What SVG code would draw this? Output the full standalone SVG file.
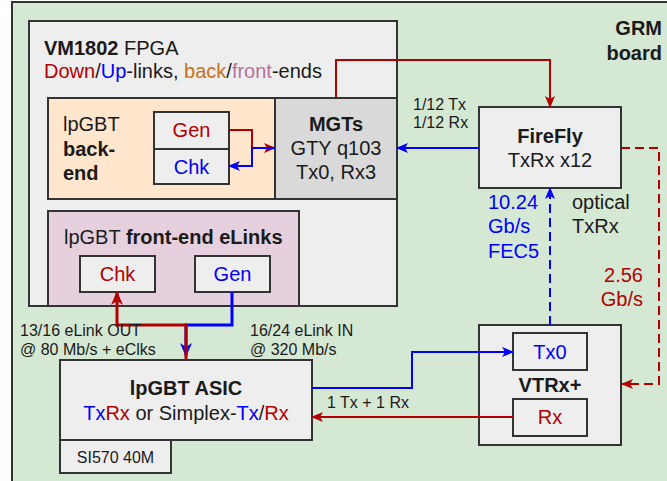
<svg xmlns="http://www.w3.org/2000/svg" width="667" height="481" viewBox="0 0 667 481">
<style>
text{font-family:"Liberation Sans",Arial,sans-serif;fill:#1a1a1a}
.m{font-size:20px}
.s{font-size:16px}
.b{font-weight:bold}
.c{text-anchor:middle}
.e{text-anchor:end}
.box{stroke:#333;stroke-width:2}
.red{fill:#b20000}
.blue{fill:#0000ff}
.org{fill:#c8711a}
.pur{fill:#b5739d}
.cr{fill:none;stroke:#b20000;stroke-width:2}
.cb{fill:none;stroke:#0000ff;stroke-width:2}
</style>
<defs>
<marker id="ar" viewBox="0 0 12 10" refX="11" refY="5" markerWidth="12" markerHeight="10" markerUnits="userSpaceOnUse" orient="auto"><path d="M0,0 L12,5 L0,10 L3,5 Z" fill="#b20000"/></marker>
<marker id="ab" viewBox="0 0 12 10" refX="11" refY="5" markerWidth="12" markerHeight="10" markerUnits="userSpaceOnUse" orient="auto"><path d="M0,0 L12,5 L0,10 L3,5 Z" fill="#0000ff"/></marker>
<marker id="arT" viewBox="0 0 14 12" refX="13" refY="6" markerWidth="14" markerHeight="12" markerUnits="userSpaceOnUse" orient="auto"><path d="M0,0 L14,6 L0,12 L4,6 Z" fill="#b20000"/></marker>
<marker id="abT" viewBox="0 0 14 12" refX="13" refY="6" markerWidth="14" markerHeight="12" markerUnits="userSpaceOnUse" orient="auto"><path d="M0,0 L14,6 L0,12 L4,6 Z" fill="#0000ff"/></marker>
</defs>

<g id="board">
<rect x="12" y="2" width="700" height="520" fill="#d5e8d4" class="box"/>
<text x="662" y="35" class="m b e">GRM</text>
<text x="662" y="60" class="m b e">board</text>
</g>

<g id="fpga">
<rect x="29" y="21" width="368" height="285" fill="#eeeeee" class="box"/>
<text x="44" y="55" class="m"><tspan class="b">VM1802</tspan> FPGA</text>
<text x="44" y="78" class="m"><tspan class="red">Down</tspan>/<tspan class="blue">Up</tspan>-links, <tspan class="org">back</tspan>/<tspan class="pur">front</tspan>-ends</text>
</g>

<g id="backend">
<rect x="48" y="98" width="227" height="101" fill="#ffe6cc" class="box"/>
<text x="63" y="131" class="m">lpGBT</text>
<text x="63" y="156" class="m b">back-</text>
<text x="63" y="180" class="m b">end</text>
</g>
<g id="be-gen">
<rect x="154" y="112" width="75" height="37" fill="#eeeeee" class="box"/>
<text x="191.5" y="137" class="m c red">Gen</text>
</g>
<g id="be-chk">
<rect x="154" y="149" width="75" height="35" fill="#eeeeee" class="box"/>
<text x="191.5" y="174" class="m c blue">Chk</text>
</g>

<g id="mgts">
<rect x="275" y="98" width="122" height="101" fill="#d9d9d9" class="box"/>
<text x="336" y="131" class="m b c">MGTs</text>
<text x="336" y="155" class="m c">GTY q103</text>
<text x="336" y="179" class="m c">Tx0, Rx3</text>
</g>

<g id="frontend">
<rect x="48" y="211" width="251" height="95" fill="#e6d0de" class="box"/>
<text x="64" y="244" class="m">lpGBT <tspan class="b">front-end eLinks</tspan></text>
</g>
<g id="fe-chk">
<rect x="80" y="256" width="75" height="36" fill="#eeeeee" class="box"/>
<text x="117.5" y="281" class="m c red">Chk</text>
</g>
<g id="fe-gen">
<rect x="195" y="256" width="75" height="36" fill="#eeeeee" class="box"/>
<text x="232.5" y="281" class="m c blue">Gen</text>
</g>

<g id="firefly">
<rect x="479" y="107" width="142" height="81" fill="#eeeeee" class="box"/>
<text x="550" y="143" class="m b c">FireFly</text>
<text x="550" y="167" class="m c">TxRx x12</text>
</g>

<g id="asic">
<rect x="60" y="360" width="252" height="80" fill="#eeeeee" class="box"/>
<text x="186" y="395" class="m b c">lpGBT ASIC</text>
<text x="186" y="420" class="m c"><tspan class="blue">Tx</tspan><tspan class="red">Rx</tspan> or Simplex-<tspan class="blue">Tx</tspan>/<tspan class="red">Rx</tspan></text>
</g>
<g id="si570">
<rect x="60" y="440" width="111" height="33" fill="#eeeeee" class="box"/>
<text x="115.5" y="463" class="s c">SI570 40M</text>
</g>

<g id="vtrx">
<rect x="479" y="325" width="142" height="120" fill="#eeeeee" class="box"/>
<text x="550" y="392" class="m b c">VTRx+</text>
</g>
<g id="vtrx-tx0">
<rect x="513" y="333" width="74" height="37" fill="#eeeeee" class="box"/>
<text x="550" y="359" class="m c blue">Tx0</text>
</g>
<g id="vtrx-rx">
<rect x="513" y="399" width="74" height="37" fill="#eeeeee" class="box"/>
<text x="550" y="424" class="m c red">Rx</text>
</g>

<g id="connectors">
<path d="M229,130 H252 V148 H275" class="cr" marker-end="url(#ar)"/>
<path d="M275,148 H252 V166 H229" class="cb" marker-end="url(#ab)"/>
<path d="M336,98 V60 H550 V107" class="cr" marker-end="url(#ar)"/>
<path d="M479,148 H397" class="cb" marker-end="url(#ab)"/>
<path d="M621,148 H659 V384 H622" class="cr" stroke-dasharray="9 5" marker-end="url(#ar)"/>
<path d="M550,325 V188" class="cb" stroke-dasharray="9 5" marker-end="url(#ab)"/>
<path d="M232,292 V325 H186 V356" fill="none" stroke="#0000ff" stroke-width="3" marker-end="url(#abT)"/>
<path d="M186,360 V325 H117 V292" fill="none" stroke="#b20000" stroke-width="3" marker-end="url(#arT)"/>
<path d="M312,388 H412 V352 H513" class="cb" marker-end="url(#ab)"/>
<path d="M513,417 H312" class="cr" marker-end="url(#ar)"/>
</g>

<g id="labels">
<text x="413" y="110" class="s">1/12 Tx</text>
<text x="413" y="128" class="s">1/12 Rx</text>
<text x="488" y="209" class="m blue">10.24</text>
<text x="488" y="233" class="m blue">Gb/s</text>
<text x="488" y="258" class="m blue">FEC5</text>
<text x="572" y="209" class="m">optical</text>
<text x="572" y="233" class="m">TxRx</text>
<text x="643" y="282" class="m e red">2.56</text>
<text x="643" y="306" class="m e red">Gb/s</text>
<text x="20" y="336" class="s">13/16 eLink OUT</text>
<text x="20" y="355" class="s">@ 80 Mb/s + eClks</text>
<text x="250" y="336" class="s">16/24 eLink IN</text>
<text x="250" y="355" class="s">@ 320 Mb/s</text>
<text x="327" y="408" class="s">1 Tx + 1 Rx</text>
</g>
</svg>
